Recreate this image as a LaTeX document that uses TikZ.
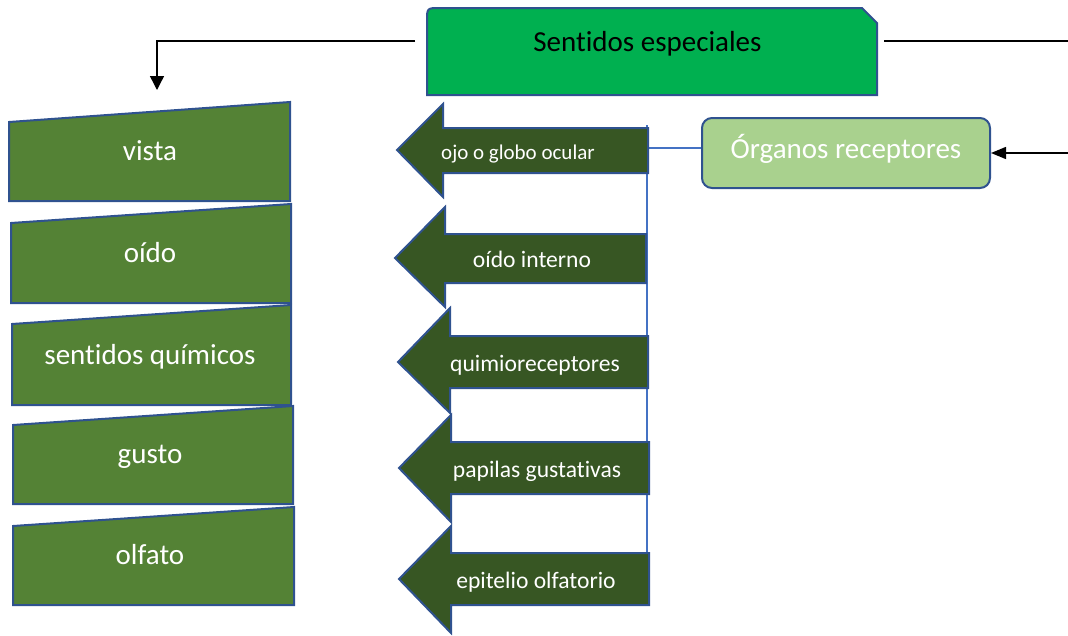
\documentclass[tikz,border=0pt]{standalone}
\usepackage{fontspec}
\setmainfont{Carlito}[Ligatures=CommonOff]
\usetikzlibrary{arrows.meta}
\definecolor{topgreen}{HTML}{00B050}
\definecolor{boxgreen}{HTML}{548235}
\definecolor{arrowgreen}{HTML}{375623}
\definecolor{lightgreen}{HTML}{A9D18E}
\definecolor{borderblue}{HTML}{2F528F}
\definecolor{lineblue}{HTML}{4472C4}
\begin{document}
\begin{tikzpicture}[x=1pt,y=-1pt,
  shapeline/.style={draw=borderblue,line width=2pt,line join=miter},
  sensebox/.style={shapeline,fill=boxgreen},
  arrowbox/.style={shapeline,fill=arrowgreen},
  bigtext/.style={font=\fontsize{29}{34}\selectfont,inner sep=0pt,anchor=base},
  arrtext/.style={font=\fontsize{23.6}{28}\selectfont,text=white,inner sep=0pt,anchor=base},
  conn/.style={draw=black,line width=1.4pt},
  tipdown/.style={-{Triangle[width=14pt,length=14pt]}},
  tipleft/.style={-{Triangle[width=12pt,length=15pt]}},
  thinblue/.style={draw=lineblue,line width=1.2pt}]
\useasboundingbox (0,0) rectangle (1068,635);

% top box
\draw[shapeline,fill=topgreen] (427,95) -- (427,21) .. controls (427,8) .. (440,8) -- (862,8) -- (877,23) -- (877,95) -- cycle;
\node[bigtext,text=black] (se) at (647.5,51) {Sentidos especiales};

% receptor box
\node[draw=borderblue,line width=2pt,fill=lightgreen,rounded corners=10pt,
      minimum width=288pt,minimum height=70pt,inner sep=0pt] (org) at (846,153) {};
\node[bigtext,text=white] (orgt) at (846,158) {Órganos receptores};

% connectors
\coordinate (lstart) at (415,41);
\coordinate (lend) at (157,90);
\draw[conn,tipdown] (lstart) -| (lend);
\coordinate (rstart) at (884,41);
\coordinate (rc1) at (1080,41);
\coordinate (rc2) at (1080,153);
\draw[conn,tipleft] (rstart) -- (rc1) -- (rc2) -- (org.east);

\coordinate (bl) at (647,148);
\coordinate (vt) at (647,125);
\coordinate (vb) at (647,590);
\draw[thinblue] (org.west |- bl) -- (bl);
\draw[thinblue] (vt) -- (vb);

% left sense boxes
\foreach \i/\L/\R/\tl/\tr/\b/\t in {1/9/290/122/102/201/vista,
    2/11/291/223/204/303/oído,
    3/12/291/324/305/405/sentidos químicos,
    4/13/293/425/406/504/gusto,
    5/13/294/526/507/605/olfato}{
  \draw[sensebox] (\L,\b) -- (\L,\tl) -- (\R,\tr) -- (\R,\b) -- cycle;
  \node[bigtext,text=white] (b\i) at (150,\b-41) {\t};
}

% receptor arrows
\foreach \i/\tx/\ty/\hb/\ht/\bt/\bb/\hbot/\rx/\cx/\t/\fs in {
    1/397/150/443/104/128/173/197/648/518/ojo o globo ocular/21,
    2/395/258/445/207/234/283/307/646/532/oído interno/23.6,
    3/398/362/450/308/336/388/413/648/535/quimioreceptores/23.6,
    4/399/468/451/415/442/494/522/649/537/papilas gustativas/23.6,
    5/399/579/451/526/553/605/633/649/536/epitelio olfatorio/23.6}{
  \draw[arrowbox] (\tx,\ty) -- (\hb,\ht) -- (\hb,\bt) -- (\rx,\bt) -- (\rx,\bb) -- (\hb,\bb) -- (\hb,\hbot) -- cycle;
  \node[arrtext,font=\fontsize{\fs}{28}\selectfont] (a\i) at (\cx,{(\bt+\bb)/2+9}) {\t};
}
\end{tikzpicture}
\end{document}
